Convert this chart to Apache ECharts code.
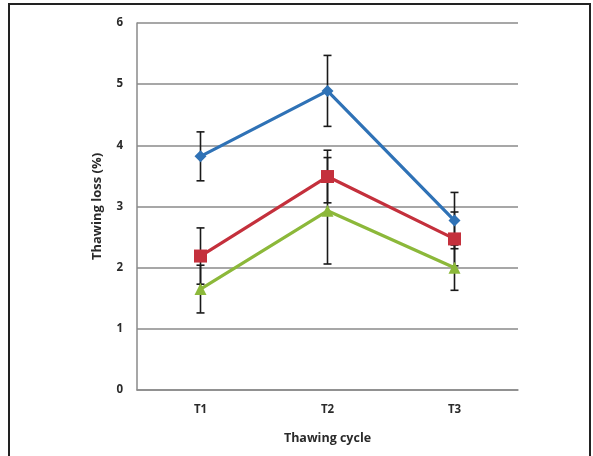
<!DOCTYPE html>
<html><head><meta charset="utf-8">
<script src="https://cdn.jsdelivr.net/npm/echarts@6/dist/echarts.min.js"></script>
<style>html,body{margin:0;padding:0;background:#fff}#c{width:593px;height:456px}</style>
</head><body><div id="c"></div>
<script>
const categories = ['T1', 'T2', 'T3'];
const yTicks = [0, 1, 2, 3, 4, 5, 6];
const blueValues = [3.82, 4.89, 2.77];
const blueErrors = [0.40, 0.58, 0.46];
const redValues = [2.19, 3.49, 2.47];
const redErrors = [0.46, 0.43, 0.44];
const greenValues = [1.65, 2.93, 2.00];
const greenErrors = [0.39, 0.87, 0.37];

const FONT = 'Open Sans';
function errData(vals, errs) {
  return vals.map((v, i) => [i, v - errs[i], v + errs[i]]);
}
function errSeries(vals, errs) {
  return {
    type: 'custom', z: 1, silent: true,
    data: errData(vals, errs),
    encode: { x: 0, y: [1, 2] },
    renderItem: function (params, api) {
      const x = api.value(0);
      const lo = api.coord([x, api.value(1)]);
      const hi = api.coord([x, api.value(2)]);
      const w = 4;
      const st = { stroke: '#1a1a1a', lineWidth: 1.6 };
      return { type: 'group', children: [
        { type: 'line', shape: { x1: lo[0], y1: lo[1], x2: hi[0], y2: hi[1] }, style: st },
        { type: 'line', shape: { x1: lo[0] - w, y1: lo[1], x2: lo[0] + w, y2: lo[1] }, style: st },
        { type: 'line', shape: { x1: hi[0] - w, y1: hi[1], x2: hi[0] + w, y2: hi[1] }, style: st }
      ]};
    }
  };
}
function lineSeries(name, vals, color, symbol, size) {
  return {
    name: name, type: 'line', z: 3, data: vals,
    symbol: symbol, symbolSize: size,
    lineStyle: { color: color, width: 3.2 },
    itemStyle: { color: color },
    animation: false
  };
}
const chart = echarts.init(document.getElementById('c'), null, { renderer: 'canvas' });
chart.setOption({
  animation: false,
  backgroundColor: '#fff',
  graphic: [{
    type: 'rect', shape: { x: 9, y: 4, width: 581, height: 470 },
    style: { fill: 'none', stroke: '#222', lineWidth: 2 }, z: 0
  }],
  grid: { left: 137, right: 75, top: 23, bottom: 66, containLabel: false },
  xAxis: {
    type: 'category', data: categories, boundaryGap: true,
    axisLine: { show: true, lineStyle: { color: '#8a8a8a', width: 1.5 } },
    axisTick: { show: false },
    axisLabel: { color: '#2a2a2a', fontFamily: FONT, fontWeight: 'bold', fontSize: 11.5, margin: 14 },
    name: 'Thawing cycle', nameLocation: 'middle', nameGap: 42,
    nameTextStyle: { color: '#2a2a2a', fontFamily: FONT, fontWeight: 'bold', fontSize: 12.5 }
  },
  yAxis: {
    type: 'value', min: yTicks[0], max: yTicks[yTicks.length - 1], interval: 1,
    axisLine: { show: true, lineStyle: { color: '#8a8a8a', width: 1.5 } },
    axisTick: { show: false },
    splitLine: { show: true, lineStyle: { color: '#8a8a8a', width: 1.5 } },
    axisLabel: { color: '#2a2a2a', fontFamily: FONT, fontWeight: 'bold', fontSize: 11.5, margin: 14 },
    name: 'Thawing loss (%)', nameLocation: 'middle', nameGap: 33,
    nameTextStyle: { color: '#2a2a2a', fontFamily: FONT, fontWeight: 'bold', fontSize: 13 }
  },
  series: [
    errSeries(blueValues, blueErrors),
    errSeries(redValues, redErrors),
    errSeries(greenValues, greenErrors),
    lineSeries('Blue', blueValues, '#2f72b6', 'diamond', 12),
    lineSeries('Red', redValues, '#c4303c', 'rect', 13),
    lineSeries('Green', greenValues, '#8cb83a', 'triangle', 12)
  ]
});
</script></body></html>
